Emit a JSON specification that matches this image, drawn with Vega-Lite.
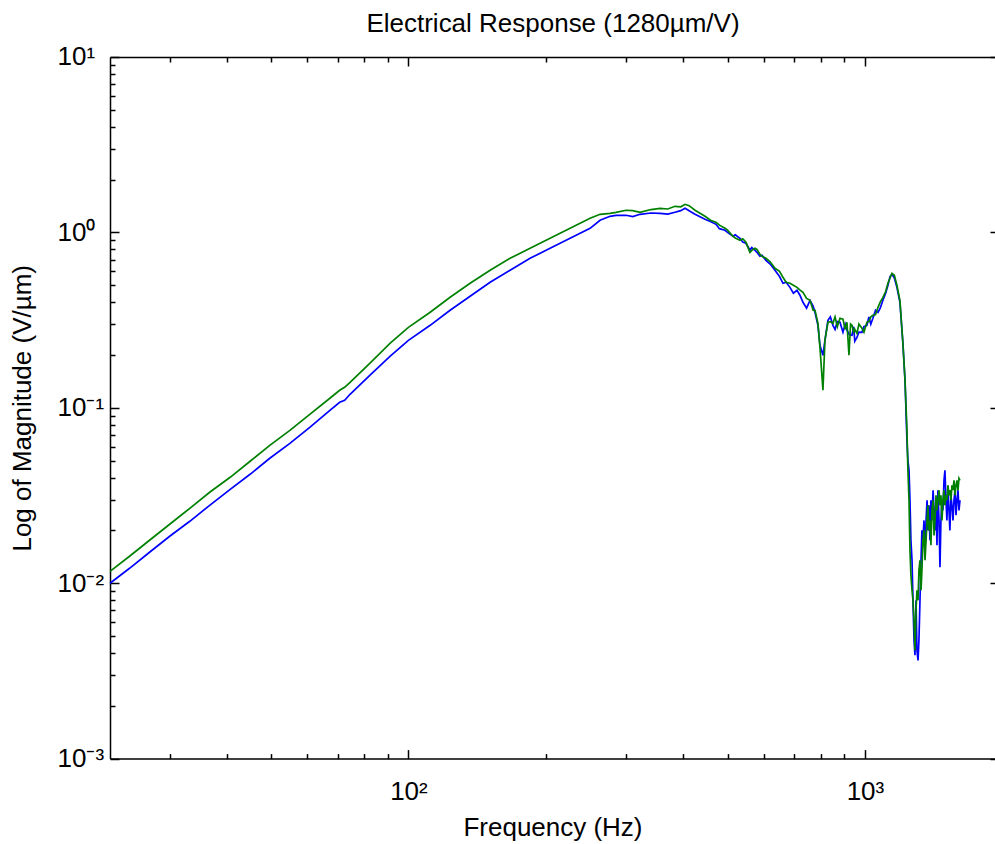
{
  "$schema": "https://vega.github.io/schema/vega-lite/v6.json",
  "width": 885,
  "height": 701.6,
  "autosize": {"type": "none"},
  "padding": {"left": 110, "top": 57, "right": 0, "bottom": 85},
  "background": "white",
  "datasets": {
    "blue": [
      {"f": 22.2, "v": 0.00999}, {"f": 24.5, "v": 0.01216}, {"f": 27.1, "v": 0.01501}, {"f": 30.0, "v": 0.01851},
      {"f": 33.2, "v": 0.02254}, {"f": 36.7, "v": 0.0278}, {"f": 40.7, "v": 0.0343}, {"f": 45.0, "v": 0.04177},
      {"f": 49.7, "v": 0.05154}, {"f": 55.0, "v": 0.06274}, {"f": 60.8, "v": 0.07741}, {"f": 67.3, "v": 0.09676},
      {"f": 70.7, "v": 0.1075}, {"f": 72.5, "v": 0.1104}, {"f": 74.5, "v": 0.1194}, {"f": 82.3, "v": 0.1532},
      {"f": 91.1, "v": 0.1966}, {"f": 100, "v": 0.2425}, {"f": 111.6, "v": 0.2953}, {"f": 123.4, "v": 0.3597},
      {"f": 136.5, "v": 0.4322}, {"f": 151.0, "v": 0.5194}, {"f": 167.0, "v": 0.6081}, {"f": 184.7, "v": 0.7116},
      {"f": 204.3, "v": 0.8116}, {"f": 226.0, "v": 0.9255}, {"f": 250.0, "v": 1.055}, {"f": 262.9, "v": 1.172},
      {"f": 276.5, "v": 1.235}, {"f": 285, "v": 1.25}, {"f": 299.7, "v": 1.252}, {"f": 310, "v": 1.23},
      {"f": 321.6, "v": 1.268}, {"f": 340, "v": 1.29}, {"f": 355.7, "v": 1.285}, {"f": 370, "v": 1.27},
      {"f": 383.7, "v": 1.302}, {"f": 395, "v": 1.33}, {"f": 403.6, "v": 1.372}, {"f": 412, "v": 1.33},
      {"f": 424.4, "v": 1.268}, {"f": 446.3, "v": 1.188}, {"f": 460, "v": 1.15},
      {"f": 471.8, "v": 1.112}, {"f": 480, "v": 1.05}, {"f": 493.7, "v": 1.028}, {"f": 500, "v": 1.0},
      {"f": 514.0, "v": 0.95}, {"f": 520, "v": 0.97}, {"f": 532.4, "v": 0.9255}, {"f": 540, "v": 0.88},
      {"f": 548.7, "v": 0.867}, {"f": 559.9, "v": 0.791}, {"f": 565, "v": 0.82}, {"f": 574.2, "v": 0.791},
      {"f": 580, "v": 0.77}, {"f": 588.9, "v": 0.7306}, {"f": 595, "v": 0.74},
      {"f": 607.0, "v": 0.693}, {"f": 620, "v": 0.66}, {"f": 635.2, "v": 0.608}, {"f": 650, "v": 0.56},
      {"f": 661.3, "v": 0.5126}, {"f": 672, "v": 0.52}, {"f": 685.1, "v": 0.486}, {"f": 697, "v": 0.45},
      {"f": 709.8, "v": 0.4677}, {"f": 720, "v": 0.44}, {"f": 731.6, "v": 0.3995}, {"f": 745, "v": 0.37},
      {"f": 757.9, "v": 0.41}, {"f": 770, "v": 0.38}, {"f": 777.3, "v": 0.3503},
      {"f": 789.0, "v": 0.2953}, {"f": 797.0, "v": 0.2272}, {"f": 809.1, "v": 0.1992}, {"f": 817.3, "v": 0.2425},
      {"f": 829.8, "v": 0.315}, {"f": 840, "v": 0.33}, {"f": 851.0, "v": 0.2953}, {"f": 860, "v": 0.28},
      {"f": 870, "v": 0.31}, {"f": 881.7, "v": 0.3073}, {"f": 895, "v": 0.27}, {"f": 905, "v": 0.3},
      {"f": 913.3, "v": 0.277}, {"f": 925, "v": 0.26}, {"f": 936.7, "v": 0.2591}, {"f": 945, "v": 0.29},
      {"f": 950, "v": 0.24}, {"f": 960.6, "v": 0.252}, {"f": 970, "v": 0.27}, {"f": 985.1, "v": 0.2694},
      {"f": 995, "v": 0.29}, {"f": 1010, "v": 0.2953}, {"f": 1020, "v": 0.33}, {"f": 1030, "v": 0.3},
      {"f": 1041, "v": 0.324}, {"f": 1055, "v": 0.36}, {"f": 1068, "v": 0.3503}, {"f": 1080, "v": 0.37},
      {"f": 1095, "v": 0.41}, {"f": 1110, "v": 0.45}, {"f": 1123, "v": 0.4993}, {"f": 1135, "v": 0.56},
      {"f": 1146, "v": 0.577}, {"f": 1160, "v": 0.55}, {"f": 1175, "v": 0.486}, {"f": 1193, "v": 0.3995}, {"f": 1211, "v": 0.2332},
      {"f": 1224, "v": 0.1435}, {"f": 1236, "v": 0.0653}, {"f": 1242, "v": 0.0502}, {"f": 1249, "v": 0.044},
      {"f": 1255, "v": 0.0297}, {"f": 1261, "v": 0.01757}, {"f": 1268, "v": 0.01351}, {"f": 1274, "v": 0.00799},
      {"f": 1281, "v": 0.00472}, {"f": 1287, "v": 0.00388}, {"f": 1294, "v": 0.00799}, {"f": 1300, "v": 0.00415},
      {"f": 1307, "v": 0.00363}, {"f": 1313, "v": 0.00472}, {"f": 1320, "v": 0.00799}, {"f": 1327, "v": 0.01351},
      {"f": 1333, "v": 0.02}, {"f": 1340, "v": 0.01757}, {"f": 1347, "v": 0.0228}, {"f": 1354, "v": 0.0154},
      {"f": 1361, "v": 0.0228}, {"f": 1368, "v": 0.0297}, {"f": 1374, "v": 0.02}, {"f": 1381, "v": 0.0278},
      {"f": 1388, "v": 0.01757}, {"f": 1395, "v": 0.0297}, {"f": 1402, "v": 0.0228}, {"f": 1410, "v": 0.0339},
      {"f": 1417, "v": 0.026}, {"f": 1424, "v": 0.02}, {"f": 1431, "v": 0.0297}, {"f": 1438, "v": 0.01645},
      {"f": 1445, "v": 0.0339}, {"f": 1453, "v": 0.0228}, {"f": 1460, "v": 0.01232}, {"f": 1467, "v": 0.0228},
      {"f": 1475, "v": 0.0297}, {"f": 1482, "v": 0.026}, {"f": 1490, "v": 0.0386}, {"f": 1497, "v": 0.044},
      {"f": 1505, "v": 0.0297}, {"f": 1512, "v": 0.0228}, {"f": 1520, "v": 0.0339}, {"f": 1528, "v": 0.026},
      {"f": 1535, "v": 0.02}, {"f": 1543, "v": 0.0317}, {"f": 1551, "v": 0.0278}, {"f": 1559, "v": 0.0228},
      {"f": 1567, "v": 0.0297}, {"f": 1575, "v": 0.0339}, {"f": 1583, "v": 0.0244}, {"f": 1591, "v": 0.0297},
      {"f": 1599, "v": 0.0339}, {"f": 1607, "v": 0.026}, {"f": 1615, "v": 0.0297}
    ],
    "green": [
      {"f": 22.2, "v": 0.01169}, {"f": 24.5, "v": 0.01424}, {"f": 27.1, "v": 0.01757}, {"f": 30.0, "v": 0.02167},
      {"f": 33.2, "v": 0.02673}, {"f": 36.7, "v": 0.03298}, {"f": 40.7, "v": 0.04016}, {"f": 45.0, "v": 0.04955},
      {"f": 49.7, "v": 0.06111}, {"f": 55.0, "v": 0.0744}, {"f": 60.8, "v": 0.09182}, {"f": 67.3, "v": 0.1133},
      {"f": 70.7, "v": 0.1258}, {"f": 72.5, "v": 0.1309}, {"f": 74.5, "v": 0.1397}, {"f": 82.3, "v": 0.1794},
      {"f": 91.1, "v": 0.2332}, {"f": 100, "v": 0.2877}, {"f": 111.6, "v": 0.3503}, {"f": 123.4, "v": 0.4266},
      {"f": 136.5, "v": 0.5126}, {"f": 151.0, "v": 0.6081}, {"f": 167.0, "v": 0.7116}, {"f": 184.7, "v": 0.8116},
      {"f": 204.3, "v": 0.9255}, {"f": 226.0, "v": 1.055}, {"f": 250.0, "v": 1.203}, {"f": 262.9, "v": 1.268},
      {"f": 276.5, "v": 1.285}, {"f": 285, "v": 1.3}, {"f": 299.7, "v": 1.337}, {"f": 310, "v": 1.33},
      {"f": 321.6, "v": 1.302}, {"f": 340, "v": 1.35}, {"f": 355.7, "v": 1.372}, {"f": 370, "v": 1.36},
      {"f": 383.7, "v": 1.409}, {"f": 395, "v": 1.4}, {"f": 403.6, "v": 1.446}, {"f": 412, "v": 1.42},
      {"f": 424.4, "v": 1.337}, {"f": 446.3, "v": 1.235}, {"f": 460, "v": 1.17},
      {"f": 471.8, "v": 1.142}, {"f": 480, "v": 1.1}, {"f": 493.7, "v": 1.055}, {"f": 500, "v": 1.03},
      {"f": 514.0, "v": 0.95}, {"f": 520, "v": 0.93}, {"f": 532.4, "v": 0.902}, {"f": 540, "v": 0.92},
      {"f": 548.7, "v": 0.878}, {"f": 559.9, "v": 0.77}, {"f": 565, "v": 0.79}, {"f": 574.2, "v": 0.8116},
      {"f": 580, "v": 0.8}, {"f": 588.9, "v": 0.75}, {"f": 595, "v": 0.73},
      {"f": 607.0, "v": 0.7116}, {"f": 620, "v": 0.68}, {"f": 635.2, "v": 0.6243}, {"f": 650, "v": 0.6},
      {"f": 661.3, "v": 0.5546}, {"f": 672, "v": 0.52}, {"f": 685.1, "v": 0.5126}, {"f": 697, "v": 0.5},
      {"f": 709.8, "v": 0.486}, {"f": 720, "v": 0.47}, {"f": 731.6, "v": 0.456}, {"f": 745, "v": 0.42},
      {"f": 757.9, "v": 0.41}, {"f": 770, "v": 0.36}, {"f": 777.3, "v": 0.3597},
      {"f": 789.0, "v": 0.303}, {"f": 797.0, "v": 0.221}, {"f": 809.1, "v": 0.1258}, {"f": 817.3, "v": 0.2425},
      {"f": 829.8, "v": 0.3073}, {"f": 840, "v": 0.31}, {"f": 851.0, "v": 0.303}, {"f": 860, "v": 0.33},
      {"f": 870, "v": 0.29}, {"f": 881.7, "v": 0.324}, {"f": 895, "v": 0.32}, {"f": 905, "v": 0.28},
      {"f": 913.3, "v": 0.3073}, {"f": 922.6, "v": 0.1992}, {"f": 930, "v": 0.3}, {"f": 936.7, "v": 0.2953},
      {"f": 945, "v": 0.27}, {"f": 950, "v": 0.28}, {"f": 960.6, "v": 0.2659}, {"f": 970, "v": 0.3},
      {"f": 985.1, "v": 0.284}, {"f": 995, "v": 0.27}, {"f": 1010, "v": 0.3073}, {"f": 1020, "v": 0.31},
      {"f": 1030, "v": 0.33}, {"f": 1041, "v": 0.3368}, {"f": 1055, "v": 0.34}, {"f": 1068, "v": 0.374},
      {"f": 1080, "v": 0.4}, {"f": 1095, "v": 0.4266}, {"f": 1110, "v": 0.46}, {"f": 1123, "v": 0.5126},
      {"f": 1135, "v": 0.55}, {"f": 1146, "v": 0.5846}, {"f": 1160, "v": 0.57}, {"f": 1175, "v": 0.4993}, {"f": 1193, "v": 0.41},
      {"f": 1211, "v": 0.2332}, {"f": 1224, "v": 0.1435}, {"f": 1236, "v": 0.0744}, {"f": 1242, "v": 0.044},
      {"f": 1249, "v": 0.0297}, {"f": 1255, "v": 0.0154}, {"f": 1261, "v": 0.01109}, {"f": 1268, "v": 0.00911},
      {"f": 1274, "v": 0.00799}, {"f": 1281, "v": 0.00614}, {"f": 1287, "v": 0.00415}, {"f": 1294, "v": 0.00701},
      {"f": 1300, "v": 0.00911}, {"f": 1307, "v": 0.00799}, {"f": 1313, "v": 0.01184}, {"f": 1320, "v": 0.01351},
      {"f": 1327, "v": 0.00911}, {"f": 1333, "v": 0.01184}, {"f": 1340, "v": 0.01757}, {"f": 1347, "v": 0.02},
      {"f": 1354, "v": 0.01351}, {"f": 1361, "v": 0.01757}, {"f": 1368, "v": 0.0228}, {"f": 1374, "v": 0.0278},
      {"f": 1381, "v": 0.02}, {"f": 1388, "v": 0.0228}, {"f": 1395, "v": 0.01645}, {"f": 1402, "v": 0.026},
      {"f": 1410, "v": 0.0297}, {"f": 1417, "v": 0.0187}, {"f": 1424, "v": 0.0228}, {"f": 1431, "v": 0.0317},
      {"f": 1438, "v": 0.026}, {"f": 1445, "v": 0.0297}, {"f": 1453, "v": 0.0339}, {"f": 1460, "v": 0.0278},
      {"f": 1467, "v": 0.0317}, {"f": 1475, "v": 0.0228}, {"f": 1482, "v": 0.0297}, {"f": 1490, "v": 0.0339},
      {"f": 1497, "v": 0.0278}, {"f": 1505, "v": 0.0317}, {"f": 1512, "v": 0.0297}, {"f": 1520, "v": 0.0362},
      {"f": 1528, "v": 0.0317}, {"f": 1535, "v": 0.0339}, {"f": 1543, "v": 0.0297}, {"f": 1551, "v": 0.0362},
      {"f": 1559, "v": 0.0339}, {"f": 1567, "v": 0.0386}, {"f": 1575, "v": 0.0317}, {"f": 1583, "v": 0.0362},
      {"f": 1591, "v": 0.0386}, {"f": 1599, "v": 0.0339}, {"f": 1607, "v": 0.0396}, {"f": 1615, "v": 0.0386}
    ]
  },
  "layer": [
    {
      "data": {"name": "blue"},
      "mark": {"type": "line", "color": "#0000ff", "strokeWidth": 1.7, "interpolate": "linear"},
      "encoding": {
        "x": {
          "field": "f", "type": "quantitative",
          "scale": {"type": "log", "domain": [22.2, 1927], "nice": false},
          "axis": {
            "orient": "bottom",
            "values": [30, 40, 50, 60, 70, 80, 90, 100, 200, 300, 400, 500, 600, 700, 800, 900, 1000],
            "labelExpr": "datum.value == 100 ? '10²' : datum.value == 1000 ? '10³' : ''",
            "tickSize": {"condition": {"test": "datum.value == 100 || datum.value == 1000", "value": -9}, "value": -5},
            "labelPadding": 29,
            "title": "Frequency (Hz)",
            "titlePadding": 6
          }
        },
        "y": {
          "field": "v", "type": "quantitative",
          "scale": {"type": "log", "domain": [0.001, 10], "nice": false},
          "axis": {
            "orient": "left",
            "values": [0.001, 0.002, 0.003, 0.004, 0.005, 0.006, 0.007, 0.008, 0.009, 0.01, 0.02, 0.03, 0.04, 0.05, 0.06, 0.07, 0.08, 0.09, 0.1, 0.2, 0.3, 0.4, 0.5, 0.6, 0.7, 0.8, 0.9, 1, 2, 3, 4, 5, 6, 7, 8, 9, 10],
            "labelExpr": "datum.value == 10 ? '10¹' : datum.value == 1 ? '10⁰' : datum.value == 0.1 ? '10⁻¹' : datum.value == 0.01 ? '10⁻²' : datum.value == 0.001 ? '10⁻³' : ''",
            "tickSize": {"condition": {"test": "datum.value == 10 || datum.value == 1 || datum.value == 0.1 || datum.value == 0.01 || datum.value == 0.001", "value": -9}, "value": -5},
            "labelAlign": "left",
            "labelBaseline": "middle",
            "labelPadding": 62,
            "title": "Log of Magnitude (V/µm)",
            "titlePadding": 18
          }
        }
      }
    },
    {
      "data": {"name": "green"},
      "mark": {"type": "line", "color": "#008000", "strokeWidth": 1.7, "interpolate": "linear"},
      "encoding": {
        "x": {
          "field": "f", "type": "quantitative",
          "scale": {"type": "log", "domain": [22.2, 1927], "nice": false},
          "axis": {
            "orient": "top",
            "values": [30, 40, 50, 60, 70, 80, 90, 100, 200, 300, 400, 500, 600, 700, 800, 900, 1000],
            "labels": false,
            "tickSize": {"condition": {"test": "datum.value == 100 || datum.value == 1000", "value": -9}, "value": -5},
            "title": "Electrical Response (1280µm/V)",
            "titlePadding": 20
          }
        },
        "y": {
          "field": "v", "type": "quantitative",
          "scale": {"type": "log", "domain": [0.001, 10], "nice": false},
          "axis": {
            "orient": "right",
            "values": [0.001, 0.01, 0.1, 1, 10],
            "labels": false,
            "domain": false,
            "tickSize": -5,
            "title": null
          }
        }
      }
    }
  ],
  "resolve": {"axis": {"x": "independent", "y": "independent"}},
  "config": {
    "view": {"stroke": null},
    "font": "Liberation Sans",
    "axis": {
      "grid": false,
      "domainColor": "black",
      "domainWidth": 1.5,
      "tickColor": "black",
      "tickWidth": 1.5,
      "labelFont": "Liberation Sans",
      "labelFontSize": 26,
      "labelColor": "black",
      "labelOverlap": false,
      "labelFlush": false,
      "labelBound": false,
      "titleFont": "Liberation Sans",
      "titleFontSize": 26,
      "titleFontWeight": "normal",
      "titleColor": "black"
    }
  }
}
